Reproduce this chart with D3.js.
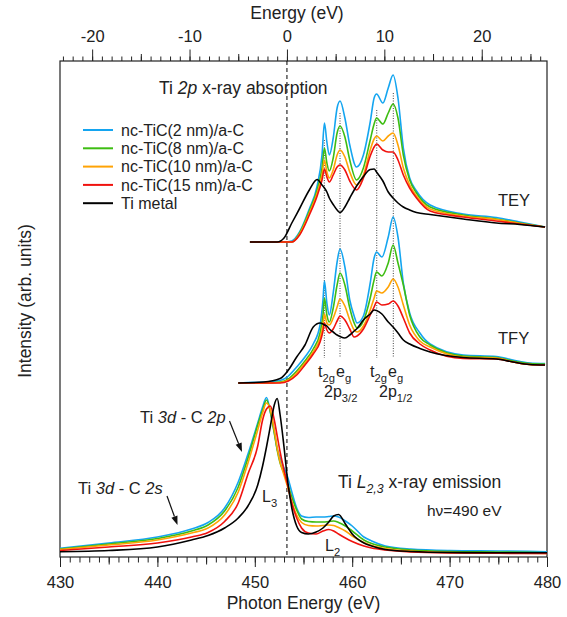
<!DOCTYPE html>
<html>
<head>
<meta charset="utf-8">
<script src="https://cdn.jsdelivr.net/npm/d3@7"></script>
<style>
    body { margin: 0; background: #fff; }
    svg { display: block; font-family: "Liberation Sans", Arial, Helvetica, sans-serif; }
</style>
</head>
<body>
<svg id="chart" width="567" height="617"></svg>
<script>
// Samples, in legend order
const sampleNames = ["nc-TiC(2 nm)/a-C", "nc-TiC(8 nm)/a-C", "nc-TiC(10 nm)/a-C",
    "nc-TiC(15 nm)/a-C", "Ti metal"];
const sampleColors = ["#14a5f0", "#3dbd12", "#ffa305", "#f0120e", "#000000"];

// Ti 2p absorption, total electron yield (photon energy, eV)
const teyEnergy = [449.5, 452.3, 453.0, 453.8, 454.6, 455.6, 456.4, 456.9, 457.15, 457.4,
    457.65, 458.05, 458.45, 458.75, 459.25, 459.75, 460.45, 461.15, 461.85, 462.25,
    462.5, 463.15, 463.7, 464.2, 464.7, 465.25, 465.9, 466.6, 468.0, 471.4,
    474.8, 477.2, 479.8];
const tey2nm = [0, 0, 0, 0.1, 1.0, 3.3, 5.6, 8.7, 11.9, 10.0, 8.7, 10.4, 13.4, 14.1, 12.4,
    9.7, 7.5, 8.7, 12.0, 14.4, 14.8, 13.9, 15.4, 16.7, 14.4, 9.4, 6.4, 5.1, 3.7, 2.8,
    2.45, 2.0, 1.5];
const tey8nm = [0, 0, 0, 0, 0.9, 3.1, 5.2, 7.4, 9.4, 7.9, 7.1, 8.4, 10.9, 11.6, 10.5,
    8.2, 6.2, 7.4, 10.2, 11.8, 12.4, 11.8, 12.9, 13.8, 12.4, 8.7, 6.2, 4.9, 3.5, 2.7,
    2.3, 1.9, 1.5];
const tey10nm = [0, 0, 0, 0, 0.8, 2.9, 4.9, 6.7, 8.2, 7.0, 6.4, 7.2, 8.7, 9.2, 8.5,
    7.0, 5.7, 6.7, 9.2, 10.3, 10.6, 10.1, 10.6, 10.9, 9.7, 7.4, 5.7, 4.6, 3.3, 2.6,
    2.25, 1.85, 1.5];
const tey15nm = [0, 0, 0, 0, 0.7, 2.7, 4.6, 6.2, 7.3, 6.5, 6.0, 6.7, 7.5, 7.7, 7.2,
    6.1, 5.2, 6.4, 8.6, 9.5, 9.8, 9.2, 9.0, 9.0, 8.2, 6.7, 5.4, 4.4, 3.1, 2.5,
    2.1, 1.8, 1.5];
const teyTi = [0, 0, 0.4, 1.9, 3.35, 5.2, 6.25, 5.7, 5.4, 5.0, 4.4, 3.75, 3.2, 2.95, 3.5,
    4.4, 5.6, 6.55, 7.25, 7.3, 7.0, 6.1, 5.0, 4.4, 3.9, 3.5, 3.2, 2.95, 2.75, 2.3,
    1.9, 1.75, 1.5];

// Ti 2p absorption, total fluorescence yield
const tfyEnergy = [448.3, 450.9, 452.6, 453.45, 454.3, 455.15, 456.0, 456.7, 457.0, 457.15,
    457.4, 457.65, 458.05, 458.45, 458.75, 459.25, 459.75, 460.2, 460.5, 461.15,
    461.85, 462.25, 462.5, 463.05, 463.7, 464.2, 464.7, 465.25, 465.9, 466.95,
    468.0, 471.4, 474.8, 476.5, 478.2, 479.8];
const tfy2nm = [0, 0.1, 0.25, 0.7, 1.6, 2.6, 3.9, 5.8, 8.3, 10.2, 8.0, 6.8, 9.0, 12.1,
    13.4, 11.6, 8.3, 6.7, 6.0, 6.7, 10.0, 12.5, 13.1, 12.6, 14.6, 16.6, 14.6, 10.0,
    7.0, 5.0, 3.9, 2.8, 2.65, 2.3, 2.0, 1.95];
const tfy8nm = [0, 0, 0.1, 0.4, 1.2, 2.2, 3.4, 5.0, 6.8, 8.5, 6.8, 6.1, 7.5, 9.8,
    11.0, 9.8, 7.5, 6.0, 5.5, 6.2, 8.5, 10.3, 11.1, 10.7, 12.0, 13.8, 12.0, 9.8,
    6.8, 4.6, 3.8, 2.7, 2.55, 2.2, 1.95, 1.9];
const tfy10nm = [0, 0, 0.05, 0.3, 1.0, 2.0, 3.1, 4.5, 5.8, 6.9, 6.0, 5.8, 6.5, 7.6,
    8.4, 7.7, 6.3, 5.3, 5.1, 5.7, 7.3, 8.5, 9.2, 9.0, 9.6, 10.4, 9.6, 7.8,
    5.8, 4.2, 3.6, 2.6, 2.5, 2.1, 1.85, 1.8];
const tfy15nm = [0, 0, 0, 0.2, 0.8, 1.8, 2.9, 4.1, 5.2, 6.0, 5.3, 5.0, 5.4, 6.2,
    6.7, 6.3, 5.4, 4.6, 4.7, 5.4, 6.8, 7.6, 8.1, 7.8, 7.9, 8.2, 7.7, 6.5,
    5.0, 3.9, 3.3, 2.45, 2.4, 2.1, 1.85, 1.8];
const tfyTi = [0, 0.1, 0.45, 1.3, 2.6, 3.8, 5.6, 6.0, 5.9, 5.8, 5.7, 5.4, 5.1, 4.8,
    4.65, 4.5, 4.8, 5.2, 5.45, 6.3, 6.9, 7.3, 7.25, 6.9, 6.1, 5.6, 5.0, 4.3,
    3.9, 3.45, 3.1, 2.55, 2.4, 2.1, 1.85, 1.8];

// Ti L2,3 x-ray emission, hv = 490 eV
const xesEnergy = [430, 435, 440, 443.5, 445.2, 446.9, 448.3, 449.3, 450.3, 450.8,
    451.2, 451.6, 452.0, 452.3, 452.6, 453.0, 453.4, 453.8, 454.3, 454.8,
    455.5, 456.3, 457.0, 457.6, 458.1, 458.6, 459.3, 460.0, 461.2, 462.0,
    463.4, 466.0, 470, 475, 480];
const xes2nm = [0.87, 1.4, 2.0, 2.8, 3.45, 4.9, 7.5, 10.3, 13.4, 15.0, 15.95, 14.5,
    12.5, 10.8, 9.9, 8.9, 7.9, 6.5, 4.9, 4.1, 3.95, 4.0, 4.0, 4.05, 4.1, 4.0, 3.6,
    3.1, 2.0, 1.6, 1.1, 0.8, 0.65, 0.6, 0.53];
const xes8nm = [0.8, 1.3, 1.85, 2.6, 3.2, 4.6, 7.0, 9.9, 13.2, 14.7, 15.7, 14.5,
    12.4, 10.7, 9.4, 8.4, 7.2, 6.0, 4.7, 3.8, 3.55, 3.5, 3.5, 3.55, 3.6, 3.45, 3.1,
    2.6, 1.7, 1.35, 1.0, 0.7, 0.55, 0.5, 0.43];
const xes10nm = [0.75, 1.2, 1.7, 2.4, 2.9, 4.2, 6.5, 9.4, 12.7, 14.4, 15.4, 14.7,
    12.7, 10.9, 9.5, 8.2, 6.9, 5.5, 4.2, 3.45, 3.15, 3.1, 3.15, 3.2, 3.15, 2.95, 2.6,
    2.1, 1.45, 1.15, 0.85, 0.6, 0.45, 0.4, 0.35];
const xes15nm = [0.65, 1.0, 1.4, 2.0, 2.45, 3.55, 5.4, 8.3, 11.1, 13.7, 14.8, 15.1,
    13.7, 12.1, 10.5, 8.7, 7.1, 5.4, 3.9, 2.9, 2.4, 2.3, 2.6, 2.75, 2.6, 2.3, 1.9,
    1.55, 1.1, 0.9, 0.7, 0.5, 0.4, 0.37, 0.35];
const xesTi = [0.53, 0.65, 1.0, 1.7, 2.15, 2.9, 3.9, 5.1, 7.2, 9.1, 11.0, 13.1,
    15.2, 15.85, 14.2, 11.0, 7.4, 4.9, 3.1, 2.45, 2.3, 2.5, 2.9, 3.5, 4.1, 4.25, 3.3,
    2.3, 1.4, 1.1, 0.75, 0.55, 0.45, 0.43, 0.43];

// Vertical offsets (arb. units) that stack the three spectra
const teyOffset = 31.5;
const tfyOffset = 17.4;
const xesOffset = 0;

// Absorption edge, the zero of the upper energy scale
const edgeEnergy = 453.3;

// t2g / eg features marked with dotted lines (energy, top of line)
const featureEnergies = [457.14, 458.75, 462.52, 464.22];
const featureTops = [41.7, 44.4, 44.7, 46.4];
const featureBottom = 19.9;

// Tick values
const bottomMajor = d3.range(430, 481, 10);
const bottomMid = d3.range(435, 480, 10);
const bottomMinor = d3.range(430, 481, 1);
const topMajor = [-20, -10, 0, 10, 20];
const topMid = [-15, -5, 5, 15, 25];
const topMinor = d3.range(-23, 27, 1);

class SpectraChart {
    constructor(selector) {
        this.svg = d3.select(selector);
        this.x = d3.scaleLinear().domain([430, 480]).range([60, 547]);
        this.xTop = d3.scaleLinear()
            .domain([430 - edgeEnergy, 480 - edgeEnergy])
            .range([60, 547]);
        this.y = d3.scaleLinear().domain([0, 49.6]).range([557, 61]);
    }

    draw() {
        this.drawAxes();
        this.drawMarkers();
        this.drawPanel(teyEnergy, [tey2nm, tey8nm, tey10nm, tey15nm, teyTi], teyOffset);
        this.drawPanel(tfyEnergy, [tfy2nm, tfy8nm, tfy10nm, tfy15nm, tfyTi], tfyOffset);
        this.drawPanel(xesEnergy, [xes2nm, xes8nm, xes10nm, xes15nm, xesTi], xesOffset);
        this.drawLegend();
        this.drawLabels();
    }

    // Frame plus the photon energy (bottom) and relative energy (top) axes
    drawAxes() {
        const [bottom, top] = this.y.range();
        const [left, right] = this.x.range();

        this.svg.append("rect")
            .attr("x", left).attr("y", top)
            .attr("width", right - left).attr("height", bottom - top)
            .attr("fill", "none").attr("stroke", "#222").attr("stroke-width", 1.2);

        const addAxis = (axis, ty, size, font) => {
            const g = this.svg.append("g")
                .attr("transform", `translate(0,${ty})`)
                .call(axis)
                .attr("font-size", font)
                .attr("font-family", null)
                .attr("color", "#222");
            g.select(".domain").remove();
            g.selectAll(".tick line").attr("stroke-width", 1);
            return g;
        };

        addAxis(d3.axisBottom(this.x).tickValues(bottomMinor).tickSize(5.5).tickFormat(""), bottom);
        addAxis(d3.axisBottom(this.x).tickValues(bottomMid).tickSize(7.5).tickFormat(""), bottom);
        addAxis(d3.axisBottom(this.x).tickValues(bottomMajor).tickSize(10)
            .tickPadding(9.5).tickFormat(d => String(d)), bottom, 10, 16.5);

        addAxis(d3.axisTop(this.xTop).tickValues(topMinor).tickSize(4.5).tickFormat(""), top);
        addAxis(d3.axisTop(this.xTop).tickValues(topMid).tickSize(7).tickFormat(""), top);
        addAxis(d3.axisTop(this.xTop).tickValues(topMajor).tickSize(11.5)
            .tickPadding(7.8).tickFormat(d => String(d)), top, 11.5, 16.5);

        this.svg.append("text")
            .attr("x", 297).attr("y", 19)
            .attr("text-anchor", "middle").attr("font-size", 17.5).attr("fill", "#222")
            .text("Energy (eV)");
        this.svg.append("text")
            .attr("x", (left + right) / 2).attr("y", 609)
            .attr("text-anchor", "middle").attr("font-size", 17.5).attr("fill", "#222")
            .text("Photon Energy (eV)");
        this.svg.append("text")
            .attr("transform", "translate(31,301) rotate(-90)")
            .attr("text-anchor", "middle").attr("font-size", 17.5).attr("fill", "#222")
            .text("Intensity (arb. units)");
    }

    // Dashed edge line and dotted t2g / eg guides
    drawMarkers() {
        const [bottom, top] = this.y.range();

        this.svg.append("line")
            .attr("x1", this.x(edgeEnergy)).attr("x2", this.x(edgeEnergy))
            .attr("y1", top).attr("y2", bottom)
            .attr("stroke", "#000").attr("stroke-width", 1)
            .attr("stroke-dasharray", "4,3");

        this.svg.append("g").selectAll("line")
            .data(featureEnergies)
            .join("line")
            .attr("x1", d => this.x(d)).attr("x2", d => this.x(d))
            .attr("y1", (d, i) => this.y(featureTops[i]))
            .attr("y2", this.y(featureBottom))
            .attr("stroke", "#444").attr("stroke-width", 1)
            .attr("stroke-dasharray", "1,1.5");
    }

    // One stacked panel: the five samples on a shared energy grid
    drawPanel(energies, series, offset) {
        const line = d3.line()
            .x((d, i) => this.x(energies[i]))
            .y(d => this.y(d + offset))
            .curve(d3.curveMonotoneX);

        this.svg.append("g").selectAll("path")
            .data(series)
            .join("path")
            .attr("d", line)
            .attr("fill", "none")
            .attr("stroke", (d, i) => sampleColors[i])
            .attr("stroke-width", 1.6)
            .attr("stroke-linejoin", "round");
    }

    drawLegend() {
        const rows = this.svg.append("g").attr("font-size", 16).selectAll("g")
            .data(sampleNames)
            .join("g")
            .attr("transform", (d, i) => `translate(83,${130 + i * 18.3})`);

        rows.append("line")
            .attr("x1", 0).attr("x2", 30)
            .attr("stroke", (d, i) => sampleColors[i])
            .attr("stroke-width", 2);
        rows.append("text")
            .attr("x", 38).attr("dy", "0.36em")
            .attr("fill", "#222")
            .text(d => d);
    }

    // Text made of plain, italic and subscript runs
    richText(x, y, size, parts) {
        const text = this.svg.append("text")
            .attr("x", x).attr("y", y)
            .attr("font-size", size).attr("fill", "#222");
        let shifted = false;
        parts.forEach(([str, style = ""]) => {
            const span = text.append("tspan").text(str);
            const sub = style.includes("sub");
            if (style.includes("i")) span.attr("font-style", "italic");
            if (sub) span.attr("font-size", size * 0.7);
            if (sub && !shifted) span.attr("dy", size * 0.3);
            if (!sub && shifted) span.attr("dy", -size * 0.3);
            shifted = sub;
        });
        return text;
    }

    arrow(x1, y1, x2, y2) {
        const angle = Math.atan2(y2 - y1, x2 - x1);
        const len = 9, half = 3.2;
        const bx = x2 - len * Math.cos(angle), by = y2 - len * Math.sin(angle);
        this.svg.append("line")
            .attr("x1", x1).attr("y1", y1).attr("x2", bx).attr("y2", by)
            .attr("stroke", "#111").attr("stroke-width", 1.2);
        const px = -Math.sin(angle) * half, py = Math.cos(angle) * half;
        this.svg.append("path")
            .attr("d", `M${x2},${y2}L${bx + px},${by + py}L${bx - px},${by - py}Z`)
            .attr("fill", "#111");
    }

    drawLabels() {
        this.richText(159, 94, 17.5, [["Ti "], ["2p", "i"], [" x-ray absorption"]]);
        this.richText(498, 206, 16.5, [["TEY"]]);
        this.richText(498, 344, 16.5, [["TFY"]]);

        this.richText(318, 377, 16, [["t"], ["2g", "sub"]]);
        this.richText(336, 377, 16, [["e"], ["g", "sub"]]);
        this.richText(370, 377, 16, [["t"], ["2g", "sub"]]);
        this.richText(388, 377, 16, [["e"], ["g", "sub"]]);
        this.richText(324, 397, 16, [["2p"], ["3/2", "sub"]]);
        this.richText(379, 397, 16, [["2p"], ["1/2", "sub"]]);

        this.richText(338, 488, 17.5,
            [["Ti "], ["L", "i"], ["2,3", "isub"], [" x-ray emission"]]);
        this.richText(427, 515.5, 15.5, [["h\u03bd=490 eV"]]);
        this.richText(262, 502, 16, [["L"], ["3", "sub"]]);
        this.richText(325, 551, 16, [["L"], ["2", "sub"]]);

        this.richText(140, 423, 16.5, [["Ti "], ["3d", "i"], [" - C "], ["2p", "i"]]);
        this.richText(78, 494, 16.5, [["Ti "], ["3d", "i"], [" - C "], ["2s", "i"]]);
        this.arrow(229.5, 421, 242, 452);
        this.arrow(167, 496, 177.5, 525);
    }
}

new SpectraChart("#chart").draw();
</script>
</body>
</html>
